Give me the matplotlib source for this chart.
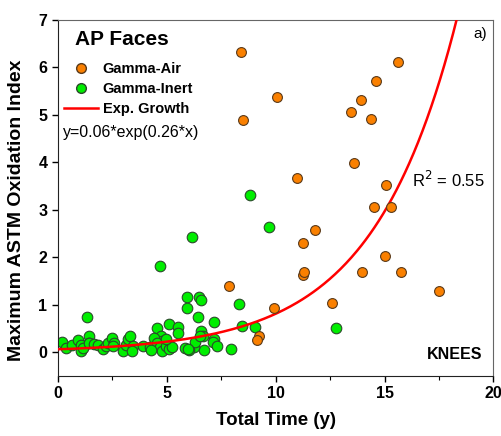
import numpy as np
import matplotlib.pyplot as plt
from matplotlib.lines import Line2D
from matplotlib.ticker import MultipleLocator

plt.rcParams['font.family'] = ['Liberation Sans', 'DejaVu Sans']

# Gamma-Air (orange) points
air_x = [8.41, 8.51, 10.05, 15.62, 14.63, 13.91, 13.47, 14.40, 13.62, 10.96, 15.06,
         14.51, 15.28, 11.80, 11.27, 15.00, 13.96, 15.76, 11.27, 11.30, 17.49, 12.58,
         9.91, 9.25, 9.16, 7.84]
air_y = [6.32, 4.89, 5.38, 6.11, 5.71, 5.31, 5.07, 4.91, 3.99, 3.68, 3.52,
         3.05, 3.05, 2.57, 2.30, 2.02, 1.68, 1.68, 1.63, 1.68, 1.28, 1.03,
         0.93, 0.34, 0.25, 1.40]

# Gamma-Inert (green) points
inert_x = [8.82, 9.71, 9.07, 12.77, 6.16, 4.69, 8.32, 5.93, 6.47, 6.57, 5.92, 6.44,
           7.16, 8.47, 1.33, 5.11, 5.53, 5.52, 6.59, 6.65, 4.57, 4.75, 4.77, 7.16,
           7.14, 7.31, 7.94, 6.73, 6.27, 5.85, 6.02, 6.28, 1.45, 1.42,
           0.18, 0.37, 0.64, 0.92, 1.08, 1.08, 1.17, 1.45, 1.67, 1.86, 2.06, 2.21,
           2.32, 2.51, 2.60, 2.55, 2.98, 3.13, 3.24, 3.32, 3.47, 3.39, 3.93, 4.23,
           4.42, 4.54, 4.69, 4.80, 4.99, 5.12, 5.23, 4.30, 4.95, 5.99, 6.55]
inert_y = [3.32, 2.63, 0.53, 0.50, 2.42, 1.82, 1.02, 1.17, 1.17, 1.10, 0.92, 0.74,
           0.64, 0.55, 0.73, 0.60, 0.53, 0.41, 0.44, 0.35, 0.51, 0.34, 0.23, 0.27,
           0.21, 0.13, 0.06, 0.05, 0.11, 0.09, 0.04, 0.21, 0.35, 0.20,
           0.22, 0.08, 0.15, 0.25, 0.15, 0.03, 0.09, 0.20, 0.18, 0.15, 0.06, 0.13,
           0.20, 0.29, 0.20, 0.13, 0.02, 0.15, 0.27, 0.33, 0.13, 0.02, 0.13, 0.10,
           0.30, 0.20, 0.10, 0.02, 0.13, 0.06, 0.10, 0.05, 0.28, 0.06, 0.35]

# exponential fit y = a*exp(b*x)
fit_a = 0.06
fit_b = 0.26

fig = plt.figure(figsize=(5.02, 4.36), dpi=100)
ax = fig.add_axes([0.115, 0.138, 0.868, 0.816])

orange = '#FA8000'
green = '#00EE00'

x_fit = np.linspace(0, 20, 400)
ax.plot(x_fit, fit_a * np.exp(fit_b * x_fit), color='#FF0000', lw=1.8, zorder=3)
ax.scatter(air_x, air_y, s=50, color=orange, edgecolors='#5a3a1a', linewidths=0.8, zorder=4)
ax.scatter(inert_x, inert_y, s=58, color=green, edgecolors='#2a4a2a', linewidths=0.8, zorder=2)

ax.set_xlim(0, 20)
ax.set_ylim(-0.5, 7)
ax.xaxis.set_major_locator(MultipleLocator(5))
ax.xaxis.set_minor_locator(MultipleLocator(2.5))
ax.yaxis.set_major_locator(MultipleLocator(1))
ax.tick_params(axis='both', which='major', direction='out', length=4, width=1,
               labelsize=11.5)
ax.tick_params(axis='x', which='minor', direction='out', length=3, width=0.8)
ax.tick_params(axis='y', which='minor', left=False)
for lab in ax.get_xticklabels() + ax.get_yticklabels():
    lab.set_fontweight('bold')
for side in ['top', 'right']:
    ax.spines[side].set_color('#666666')
for side in ['left', 'bottom']:
    ax.spines[side].set_color('#222222')

ax.set_xlabel('Total Time (y)', fontsize=13.5, fontweight='bold', labelpad=8)
ax.set_ylabel('Maximum ASTM Oxidation Index', fontsize=14, fontweight='bold')
ax.yaxis.set_label_coords(-0.076, 0.465)

# legend
ax.text(0.04, 0.944, 'AP Faces', transform=ax.transAxes, fontsize=15,
        fontweight='bold', va='center', ha='left')
handles = [
    Line2D([0], [0], marker='o', ls='none', markerfacecolor=orange,
           markeredgecolor='#5a3a1a', markersize=7, label='Gamma-Air'),
    Line2D([0], [0], marker='o', ls='none', markerfacecolor=green,
           markeredgecolor='#2a4a2a', markersize=7, label='Gamma-Inert'),
    Line2D([0], [0], color='#FF0000', lw=1.8, label='Exp. Growth'),
]
ax.legend(handles=handles, loc='upper left', bbox_to_anchor=(0.0145, 0.882),
          frameon=False, prop={'weight': 'bold', 'size': 10.5},
          handlelength=2.3, handletextpad=0.35, labelspacing=0.42,
          borderaxespad=0, borderpad=0)

ax.text(0.012, 0.683, 'y=0.06*exp(0.26*x)', transform=ax.transAxes,
        fontsize=11.5, va='center', ha='left')
ax.text(0.985, 0.962, 'a)', transform=ax.transAxes, fontsize=11, va='center', ha='right')
ax.text(0.98, 0.55, r'R$^2$ = 0.55', transform=ax.transAxes, fontsize=12,
        va='center', ha='right')
ax.text(0.975, 0.059, 'KNEES', transform=ax.transAxes, fontsize=11.5,
        fontweight='bold', va='center', ha='right')

fig.savefig('out.png', dpi=100)
